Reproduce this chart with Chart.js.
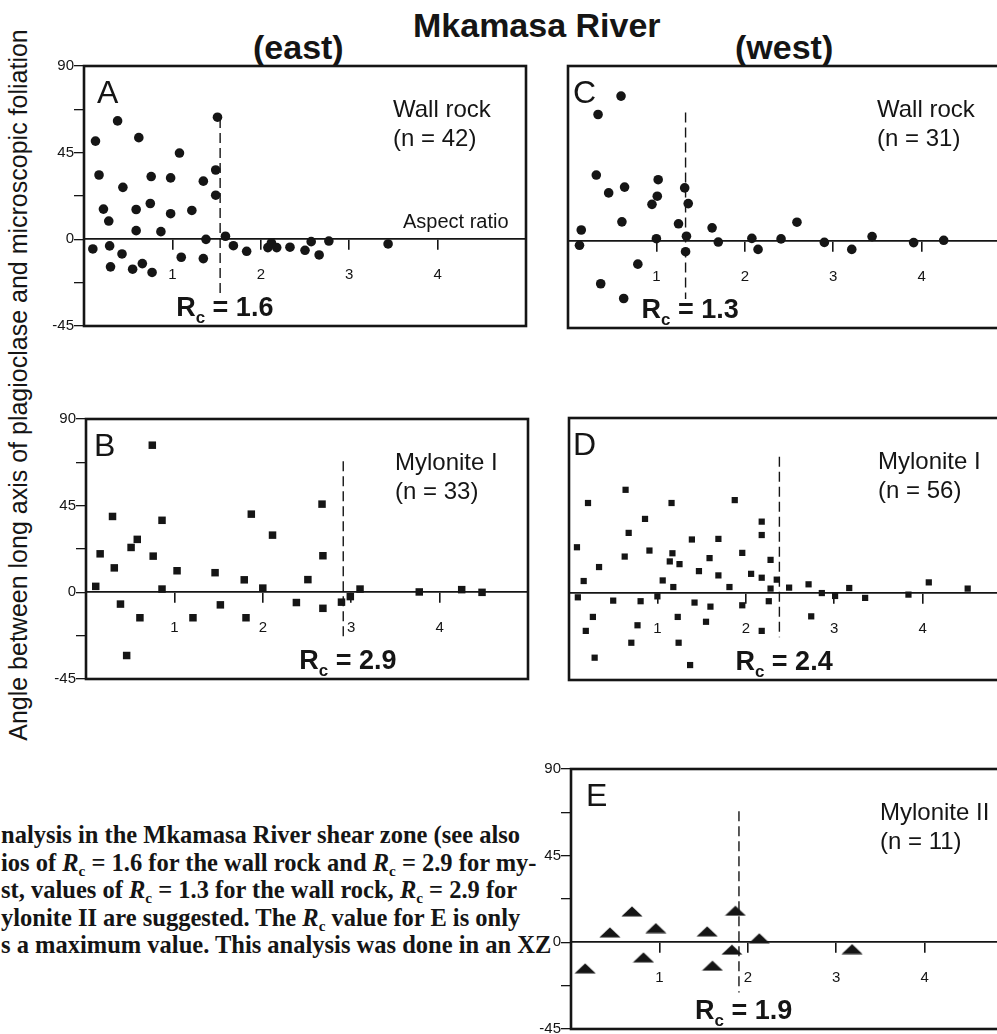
<!DOCTYPE html>
<html>
<head>
<meta charset="utf-8">
<script src="https://cdn.jsdelivr.net/npm/chart.js@4/dist/chart.umd.min.js"></script>
<style>
  html, body { margin: 0; padding: 0; background: #fff; }
  body { width: 997px; height: 1034px; overflow: hidden; position: relative; font-family: "Liberation Sans", Arial, sans-serif; color: #151515; }
  canvas { position: absolute; }
  .head { position: absolute; font-weight: bold; font-size: 34px; line-height: 34px; white-space: nowrap; }
  #ylab { position: absolute; left: -382px; top: 370px; width: 800px; height: 30px; line-height: 30px; font-size: 25px; text-align: center; transform: rotate(-90deg); white-space: nowrap; }
  #caption { position: absolute; left: 1px; top: 821px; font-family: "Liberation Serif", "Times New Roman", serif; font-weight: bold; font-size: 24.5px; line-height: 27.5px; white-space: pre; }
  #caption i { font-style: italic; }
  #caption sub { font-size: 0.62em; vertical-align: -0.3em; line-height: 0; }
</style>
</head>
<body>
<div class="head" style="left:413px; top:8px;">Mkamasa River</div>
<div class="head" style="left:253px; top:30px;">(east)</div>
<div class="head" style="left:735px; top:30px;">(west)</div>
<div id="ylab">Angle between long axis of plagioclase and microscopic foliation</div>
<div id="caption">nalysis in the Mkamasa River shear zone (see also
ios of <i>R</i><sub>c</sub> = 1.6 for the wall rock and <i>R</i><sub>c</sub> = 2.9 for my-
st, values of <i>R</i><sub>c</sub> = 1.3 for the wall rock, <i>R</i><sub>c</sub> = 2.9 for
ylonite II are suggested. The <i>R</i><sub>c</sub> value for E is only
s a maximum value. This analysis was done in an XZ</div>

<canvas id="chartA" width="500" height="278"></canvas>
<canvas id="chartB" width="500" height="278"></canvas>
<canvas id="chartC" width="500" height="278"></canvas>
<canvas id="chartD" width="500" height="278"></canvas>
<canvas id="chartE" width="500" height="278"></canvas>

<script>
// ---- data ----
const xTickValues = [1, 2, 3, 4];
const yTickValues = [-45, -22.5, 0, 22.5, 45, 67.5, 90];
const yLabelValues = [-45, 0, 45, 90];

const panelLetters = ['A', 'B', 'C', 'D', 'E'];
const panelTitles = ['Wall rock', 'Mylonite I', 'Wall rock', 'Mylonite I', 'Mylonite II'];
const panelCounts = [42, 33, 31, 56, 11];
const rcLabels = ['1.6', '2.9', '1.3', '2.4', '1.9'];
const rcLineX = [1.54, 2.91, 1.33, 2.38, 1.9];
const rcLineTop = [63, 68, 66, 70, 68];
const rcLineBottom = [-30, -24, -30, -23, -26];

// A: wall rock (east)
const wallRockEastX = [0.13, 0.38, 0.62, 1.51, 1.08, 0.17, 0.44, 0.76, 0.98, 1.35, 1.49, 1.49, 0.22, 0.28, 0.59, 0.75, 0.98, 1.22, 0.59, 0.87, 1.38, 1.6, 0.1, 0.29, 0.43, 0.3, 0.55, 0.66, 0.77, 1.1, 1.35, 1.69, 1.84, 2.08, 2.12, 2.18, 2.33, 2.5, 2.57, 2.66, 2.77, 3.44];
const wallRockEastY = [51, 61.5, 52.8, 63.4, 44.8, 33.4, 27, 32.6, 31.9, 30.2, 36, 22.9, 15.7, 9.5, 15.5, 18.6, 13.3, 15, 4.5, 4, 0, 1.6, -5, -3.4, -7.6, -14.3, -15.5, -12.6, -17.2, -9.3, -10, -3.3, -6.2, -4.3, -1.8, -4.3, -4.1, -5.7, -1.2, -8.1, -0.9, -2.4];

// B: mylonite I (east)
const myloniteEastX = [0.75, 0.11, 0.16, 0.3, 0.32, 0.51, 0.58, 0.76, 0.86, 0.86, 1.03, 1.46, 1.79, 1.87, 2.0, 2.11, 2.51, 2.67, 2.68, 0.39, 0.61, 0.46, 1.21, 1.52, 1.81, 2.38, 2.68, 2.89, 2.99, 3.1, 3.77, 4.25, 4.48];
const myloniteEastY = [76.4, 3.1, 20, 39.4, 12.7, 23.3, 27.5, 18.8, 37.4, 1.7, 11.2, 10.2, 6.5, 40.6, 2.2, 29.7, 6.6, 45.8, 19, -6.1, -13.2, -32.8, -13.2, -6.5, -13.2, -5.3, -8.3, -5.1, -2.2, 1.7, 0.2, 1.4, 0];

// C: wall rock (west)
const wallRockWestX = [0.6, 0.34, 0.32, 0.46, 0.64, 1.02, 1.01, 0.95, 1.32, 1.36, 0.15, 0.61, 1.25, 1.63, 2.59, 0.13, 1.0, 1.34, 1.33, 1.7, 2.08, 2.15, 2.41, 2.9, 3.21, 3.44, 3.91, 4.25, 0.79, 0.37, 0.63];
const wallRockWestY = [74.5, 65, 33.8, 24.6, 27.6, 31.4, 22.9, 18.7, 27.2, 19.1, 5.5, 9.7, 8.7, 6.6, 9.5, -2.4, 1, 2.3, -5.7, -0.7, 1.2, -4.5, 0.9, -0.9, -4.5, 2.1, -1, 0.2, -12.1, -22.2, -29.8];

// D: mylonite I (west)
const myloniteWestX = [0.64, 0.215, 1.16, 1.875, 0.86, 2.18, 0.675, 2.18, 1.39, 1.69,
  0.09, 0.91, 1.17, 1.96, 0.63, 1.59, 1.14, 1.25, 2.28, 0.34,
  1.47, 1.69, 2.06, 2.18, 0.166, 1.06, 1.18, 1.815, 2.35, 2.28,
  0.1, 0.5, 0.81, 1.0, 1.42, 1.6, 1.96, 2.26, 0.27, 1.23,
  0.19, 0.775, 1.55, 2.18, 0.705, 1.24, 0.29, 1.37,
  2.49, 2.71, 2.86, 3.01, 3.17, 3.35, 3.84, 4.07, 4.51, 2.74];
const myloniteWestY = [53, 46.2, 46.2, 47.7, 38, 36.6, 30.8, 29.7, 27.4, 27.7,
  23.4, 21.7, 20.3, 20.5, 18.6, 17.8, 16.1, 14.7, 16.9, 13.2,
  11.1, 8.9, 9.7, 7.7, 6, 6.3, 2.9, 2.9, 6.7, 2.1,
  -2.4, -4.1, -4.4, -1.9, -5.1, -7.2, -6.5, -4.4, -12.5, -12.5,
  -19.7, -16.8, -15, -19.7, -25.8, -25.8, -33.5, -37.3,
  2.6, 4.3, -0.2, -1.7, 2.4, -2.7, -1, 5.3, 2.1, -12.2];

// E: mylonite II (west)
const mylonite2WestX = [0.16, 0.44, 0.69, 0.82, 0.96, 1.54, 1.6, 1.82, 1.86, 2.13, 3.18];
const mylonite2WestY = [-13.5, 5.2, 16.1, -7.8, 7.4, 5.7, -12.1, -3.8, 16.4, 2.1, -3.5];

// ---- layout ----
const INK = '#151515';
const FONT = '"Liberation Sans", Arial, sans-serif';
const BOX_W = 442, BOX_H = 262, Y_AXIS_W = 50, PAD = 8;

// flattened triangle marker for panel E
const triangle = document.createElement('canvas');
triangle.width = 22;
triangle.height = 11;
(function () {
  const t = triangle.getContext('2d');
  t.fillStyle = INK;
  t.beginPath();
  t.moveTo(11, 0.5);
  t.lineTo(21.5, 10.5);
  t.lineTo(0.5, 10.5);
  t.closePath();
  t.fill();
})();

const panelDecor = {
  id: 'panelDecor',
  afterDraw(chart, args, o) {
    const { ctx, chartArea: a } = chart;
    const xs = chart.scales.x, ys = chart.scales.y;
    ctx.save();
    ctx.strokeStyle = INK;
    ctx.lineWidth = 2.6;
    ctx.strokeRect(a.left, a.top, a.right - a.left, a.bottom - a.top);

    ctx.fillStyle = INK;
    ctx.textBaseline = 'alphabetic';
    ctx.textAlign = 'left';
    ctx.font = '32px ' + FONT;
    ctx.fillText(o.letter, a.left + o.letterDx, a.top + 37);

    ctx.font = '24px ' + FONT;
    ctx.fillText(o.title, a.left + 309, a.top + 51);
    ctx.fillText('(n = ' + o.count + ')', a.left + 309, a.top + 80);

    if (o.axisTitle) {
      ctx.font = '20px ' + FONT;
      ctx.fillText(o.axisTitle, a.left + 319, ys.getPixelForValue(0) - 11);
    }

    // R_c label
    let rx = xs.getPixelForValue(o.rc) - 44;
    const by = a.bottom - 10;
    ctx.font = 'bold 27px ' + FONT;
    ctx.fillText('R', rx, by);
    rx += ctx.measureText('R').width;
    ctx.font = 'bold 17px ' + FONT;
    ctx.fillText('c', rx, by + 7);
    rx += ctx.measureText('c').width;
    ctx.font = 'bold 27px ' + FONT;
    ctx.fillText(' = ' + o.rcLabel, rx, by);
    ctx.restore();
  }
};

function makePanel(canvasId, i, xs, ys, marker, left, top, showY, letterDx) {
  const el = document.getElementById(canvasId);
  el.style.left = (left - Y_AXIS_W) + 'px';
  el.style.top = (top - PAD) + 'px';

  const points = xs.map((x, k) => ({ x: x, y: ys[k] }));
  const markerOpts = marker === 'tri'
    ? { pointStyle: triangle, pointRadius: 6 }
    : marker === 'sq'
      ? { pointStyle: 'rect', pointRadius: 5.3 }
      : marker === 'sqs'
        ? { pointStyle: 'rect', pointRadius: 4.4 }
        : { pointStyle: 'circle', pointRadius: 4.8 };

  new Chart(el.getContext('2d'), {
    type: 'scatter',
    data: {
      datasets: [
        Object.assign({
          data: points,
          backgroundColor: INK,
          borderColor: INK,
          borderWidth: 0,
        }, markerOpts),
        {
          data: [{ x: rcLineX[i], y: rcLineTop[i] }, { x: rcLineX[i], y: rcLineBottom[i] }],
          showLine: true,
          borderColor: INK,
          borderWidth: 1.4,
          borderDash: [10, 5],
          pointRadius: 0,
        },
      ],
    },
    options: {
      responsive: false,
      animation: false,
      events: [],
      layout: { padding: { left: 0, top: PAD, right: PAD, bottom: PAD } },
      plugins: {
        legend: { display: false },
        tooltip: { enabled: false },
        panelDecor: {
          letter: panelLetters[i],
          letterDx: letterDx,
          title: panelTitles[i],
          count: panelCounts[i],
          rc: rcLineX[i],
          rcLabel: rcLabels[i],
          axisTitle: i === 0 ? 'Aspect ratio' : null,
        },
      },
      scales: {
        x: {
          type: 'linear',
          min: 0,
          max: 5,
          position: { y: 0 },
          afterBuildTicks: (s) => { s.ticks = xTickValues.map((v) => ({ value: v })); },
          afterFit: (s) => { s.height = 0; },
          border: { display: true, color: INK, width: 1.7 },
          grid: { drawOnChartArea: false, drawTicks: true, tickLength: 10, color: INK, lineWidth: 1.6 },
          ticks: { color: INK, padding: 17, font: { family: FONT, size: 15 } },
        },
        y: {
          type: 'linear',
          min: -45,
          max: 90,
          afterBuildTicks: (s) => { s.ticks = yTickValues.map((v) => ({ value: v })); },
          afterFit: (s) => { s.width = Y_AXIS_W; },
          border: { display: false },
          grid: { display: showY, drawOnChartArea: false, drawTicks: true, tickLength: 10, color: INK, lineWidth: 1.3 },
          ticks: {
            display: showY,
            color: INK,
            padding: 0,
            font: { family: FONT, size: 15 },
            callback: (v) => (yLabelValues.includes(v) ? String(v) : ''),
          },
        },
      },
    },
    plugins: [panelDecor],
  });
}

makePanel('chartA', 0, wallRockEastX, wallRockEastY, 'dot', 84, 65, true, 13);
makePanel('chartB', 1, myloniteEastX, myloniteEastY, 'sq', 86, 418, true, 8);
makePanel('chartC', 2, wallRockWestX, wallRockWestY, 'dot', 568, 66, false, 5);
makePanel('chartD', 3, myloniteWestX, myloniteWestY, 'sqs', 569, 418, false, 4);
makePanel('chartE', 4, mylonite2WestX, mylonite2WestY, 'tri', 571, 768, true, 15);
</script>
</body>
</html>
